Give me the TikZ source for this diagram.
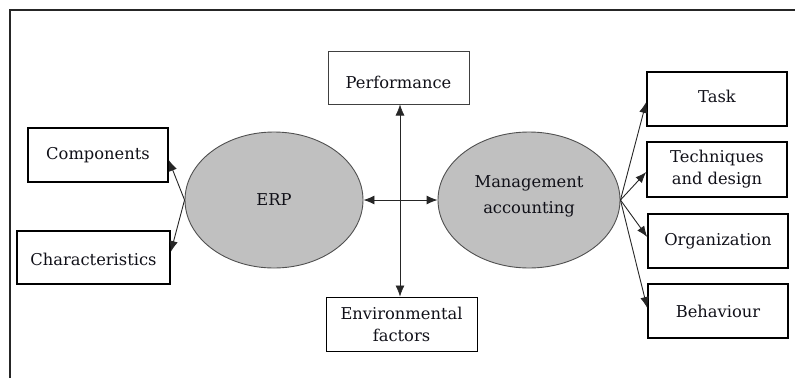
\documentclass[tikz,border=0pt]{standalone}
\usepackage{fontspec}
\setmainfont{DejaVu Serif}
\usetikzlibrary{shapes.geometric,arrows.meta}
\definecolor{ellfill}{HTML}{C0C0C0}
\definecolor{ellline}{HTML}{505050}
\definecolor{txt}{HTML}{101018}
\tikzset{
  box/.style={draw=black, line width=1.5pt, rectangle, inner sep=0pt, align=center,
    text=txt, font=\fontsize{16.3}{22}\selectfont},
  thinbox/.style={box, line width=1pt},
  boxtext/.style={text=txt, align=center, inner sep=0pt, font=\fontsize{16.3}{22}\selectfont},
  ell/.style={ellipse, draw=ellline, line width=0.9pt, fill=ellfill, inner sep=0pt,
    align=center, text=txt, font=\fontsize{16.3}{26}\selectfont},
  arr/.style={line width=0.9pt, draw=black!85, -{Latex[length=11pt,width=8.5pt]}},
  darr/.style={line width=0.9pt, draw=black!85, {Latex[length=11pt,width=9pt]}-{Latex[length=11pt,width=9pt]}},
  frame/.style={line width=1.6pt, draw=black!85}
}
\begin{document}
\begin{tikzpicture}[x=1pt,y=-1pt]
\useasboundingbox (0,0) rectangle (795,378);
\draw[frame] (10,378) -- (10,10) -- (795,10);

\node[box, minimum width=140pt, minimum height=54pt] (comp) at (98,155) {Components};
\node[box, minimum width=153pt, minimum height=53pt,
  label={[boxtext, yshift=-2pt]center:Characteristics}] (char) at (93.5,257.5) {};
\node[ell, minimum width=178pt, minimum height=136pt] (erp) at (274,200) {ERP};
\node[ell, minimum width=182pt, minimum height=136pt,
  label={[boxtext, yshift=4pt, font=\fontsize{16.3}{26}\selectfont]center:Management\\accounting}] (ma) at (529,200) {};
\node[thinbox, draw=black!75, minimum width=141pt, minimum height=53pt,
  label={[boxtext, yshift=-5pt]center:Performance}] (perf) at (398.5,77.5) {};
\node[thinbox, minimum width=151pt, minimum height=54pt] (env) at (401.5,324) {Environmental\\factors};
\node[box, minimum width=140pt, minimum height=54pt,
  label={[boxtext, yshift=3pt]center:Task}] (task) at (717,99) {};
\node[box, minimum width=140pt, minimum height=55pt] (tech) at (717,169.5) {Techniques\\and design};
\node[box, minimum width=140pt, minimum height=54pt] (org) at (718,241) {Organization};
\node[box, minimum width=140pt, minimum height=54pt] (beh) at (718,311) {Behaviour};

\coordinate (vx) at (400,0);

\draw[arr] (erp.west) -- ([yshift=-5pt]comp.east);
\draw[arr] (erp.west) -- ([yshift=5.5pt]char.east);
\draw[darr] (erp.east) -- (ma.west);
\draw[darr, line width=0.6pt] (perf.south -| vx) -- (env.north -| vx);
\draw[arr] (ma.east) -- ([yshift=-3pt]task.west);
\draw[arr] (ma.east) -- ([yshift=-2.5pt]tech.west);
\draw[arr] (ma.east) -- ([yshift=4pt]org.west);
\draw[arr] (ma.east) -- ([yshift=3pt]beh.west);
\end{tikzpicture}
\end{document}
